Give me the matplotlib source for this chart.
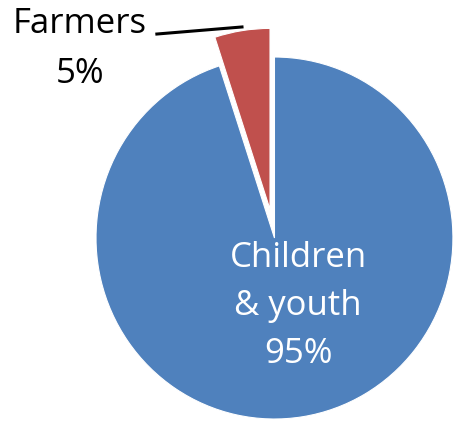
import matplotlib
matplotlib.use("Agg")
import matplotlib.pyplot as plt

labels = ["Farmers", "Children\n& youth"]
values = [5, 95]
colors = ["#C0504D", "#4F81BD"]
explode = [0.16, 0.0]

plt.rcParams['font.family'] = ['Open Sans', 'DejaVu Sans']

fig = plt.figure(figsize=(4.54, 4.21), dpi=100)
ax = fig.add_axes([0, 0, 1, 1])
ax.pie(values, colors=colors, explode=explode, startangle=90, counterclock=True,
       radius=1.0, center=(0, 0), wedgeprops=dict(edgecolor="white", linewidth=0.8),
       frame=True)
ax.set_aspect('auto')
ax.set_xlim(-1.538, 1.006)
ax.set_ylim(-1.011, 1.315)
ax.axis('off')

ax.text(0.132, -0.375, f"{labels[1]}\n{values[1]}%", color="white", fontsize=25,
        ha="center", va="center", linespacing=1.55)
ax.text(-1.090, 1.045, f"{labels[0]}\n{values[0]}%", color="black", fontsize=25,
        ha="center", va="center", linespacing=1.64)
ax.plot([-0.659, -0.182], [1.127, 1.166], color="black", linewidth=2.2)

fig.savefig("out.png", dpi=100)
